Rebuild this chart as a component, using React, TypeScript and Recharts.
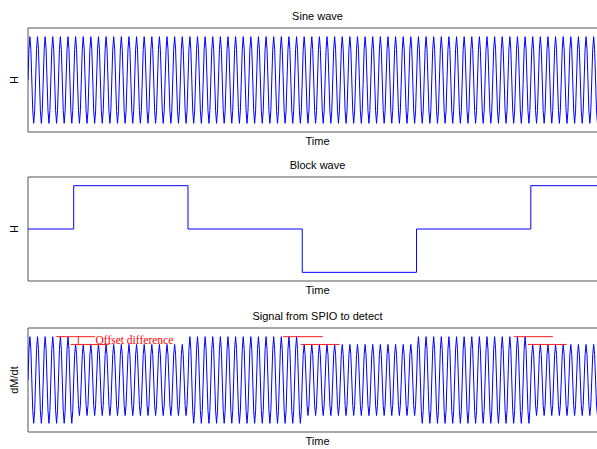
import React from "react";
import {
  LineChart,
  Line,
  XAxis,
  YAxis,
  ReferenceArea,
  ReferenceLine,
  ReferenceDot,
} from "recharts";

const sineShape = [0, 0.71, 1, 0.71, 0, -0.71, -1, -0.71];
const cycles = 76;

// block wave: level held between edges (time in sine periods)
const blockEdges = [0, 6, 21, 36, 51, 66, 76];
const blockLevels = [0, 1, 0, -1, 0, 1];

// detected signal amplitude for each block segment
const signalGain = [1, 0.82, 1, 0.82, 1, 0.82];

// red "offset difference" marks: upper at full peak, lower at reduced peak
const offsetUpper = [
  [3.7, 8.8],
  [33.5, 38.7],
  [63.8, 68.9],
];
const offsetLower = [
  [5.6, 10.6],
  [35.8, 40.9],
  [65.6, 70.7],
];

const segmentOf = (t: number) => {
  for (let i = 0; i < blockLevels.length; i++) {
    if (t >= blockEdges[i] && t < blockEdges[i + 1]) return i;
  }
  return blockLevels.length - 1;
};

const sineData: { t: number; v: number }[] = [];
const signalData: { t: number; v: number }[] = [];
for (let c = 0; c < cycles; c++) {
  sineShape.forEach((s, i) => {
    const t = c + i / sineShape.length;
    sineData.push({ t, v: s });
    signalData.push({ t, v: s * signalGain[segmentOf(t)] });
  });
}
sineData.push({ t: cycles, v: 0 });
signalData.push({ t: cycles, v: 0 });

const blockData = blockEdges.map((t, i) => ({
  t,
  v: blockLevels[Math.min(i, blockLevels.length - 1)],
}));

const FONT = "'Liberation Sans', Arial, sans-serif";
const BLUE = "#0000ff";
const X_MAX = 76;
const Y_LIM = 1.2;

function Panel({
  top,
  title,
  yLabel,
  data,
  step,
  children,
}: {
  top: number;
  title: string;
  yLabel: string;
  data: { t: number; v: number }[];
  step?: boolean;
  children?: React.ReactNode;
}) {
  return (
    <>
      <div
        style={{
          position: "absolute",
          left: 28,
          width: 579,
          top: top - 19,
          height: 14,
          lineHeight: "14px",
          textAlign: "center",
          fontFamily: FONT,
          fontSize: 11,
          color: "#000",
        }}
      >
        {title}
      </div>
      <div style={{ position: "absolute", left: 0, top: top - 28 }}>
        <LineChart
          width={640}
          height={150}
          data={data}
          margin={{ top: 28, right: 33, left: 0, bottom: 0 }}
        >
          <XAxis
            type="number"
            dataKey="t"
            domain={[0, X_MAX]}
            allowDataOverflow
            height={18}
            tick={false}
            tickLine={false}
            axisLine={false}
            label={{ value: "Time", position: "center", fill: "#000", fontSize: 11, fontFamily: FONT }}
          />
          <YAxis
            type="number"
            domain={[-Y_LIM, Y_LIM]}
            allowDataOverflow
            width={28}
            tick={false}
            tickLine={false}
            axisLine={false}
            label={{ value: yLabel, angle: -90, position: "center", fill: "#000", fontSize: 11, fontFamily: FONT }}
          />
          <ReferenceArea
            x1={0}
            x2={X_MAX}
            y1={-Y_LIM}
            y2={Y_LIM}
            fill="none"
            stroke="#555"
            strokeWidth={1}
            ifOverflow="visible"
          />
          <Line
            type={step ? "stepAfter" : "linear"}
            dataKey="v"
            stroke={BLUE}
            strokeWidth={1}
            dot={false}
            isAnimationActive={false}
          />
          {children}
        </LineChart>
      </div>
    </>
  );
}

export default function App() {
  const lowLevel = signalGain[1];
  return (
    <div
      style={{
        position: "fixed",
        left: 0,
        top: 0,
        width: 597,
        height: 449,
        overflow: "hidden",
        background: "#fff",
      }}
    >
      <Panel top={28} title="Sine wave" yLabel="H" data={sineData} />
      <Panel top={177} title="Block wave" yLabel="H" data={blockData} step />
      <Panel top={328} title="Signal from SPIO to detect" yLabel="dM/dt" data={signalData}>
        {offsetUpper.map(([a, b], i) => (
          <ReferenceLine
            key={"u" + i}
            segment={[{ x: a, y: 1 }, { x: b, y: 1 }]}
            stroke="#ff2020"
            strokeWidth={1}
            ifOverflow="visible"
          />
        ))}
        {offsetLower.map(([a, b], i) => (
          <ReferenceLine
            key={"l" + i}
            segment={[{ x: a, y: lowLevel }, { x: b, y: lowLevel }]}
            stroke="#ff2020"
            strokeWidth={1}
            ifOverflow="visible"
          />
        ))}
        <ReferenceLine
          segment={[{ x: 6.6, y: 1 }, { x: 6.6, y: lowLevel }]}
          stroke="#ff2020"
          strokeWidth={1}
          ifOverflow="visible"
        />
        <ReferenceDot
          x={8.2}
          y={0.92}
          r={0}
          fill="none"
          stroke="none"
          ifOverflow="visible"
          label={{
            value: "Offset difference",
            position: "right",
            fill: "#ff0000",
            fontSize: 11.5,
            fontFamily: "'Liberation Serif', 'Times New Roman', serif",
          }}
        />
      </Panel>
    </div>
  );
}
